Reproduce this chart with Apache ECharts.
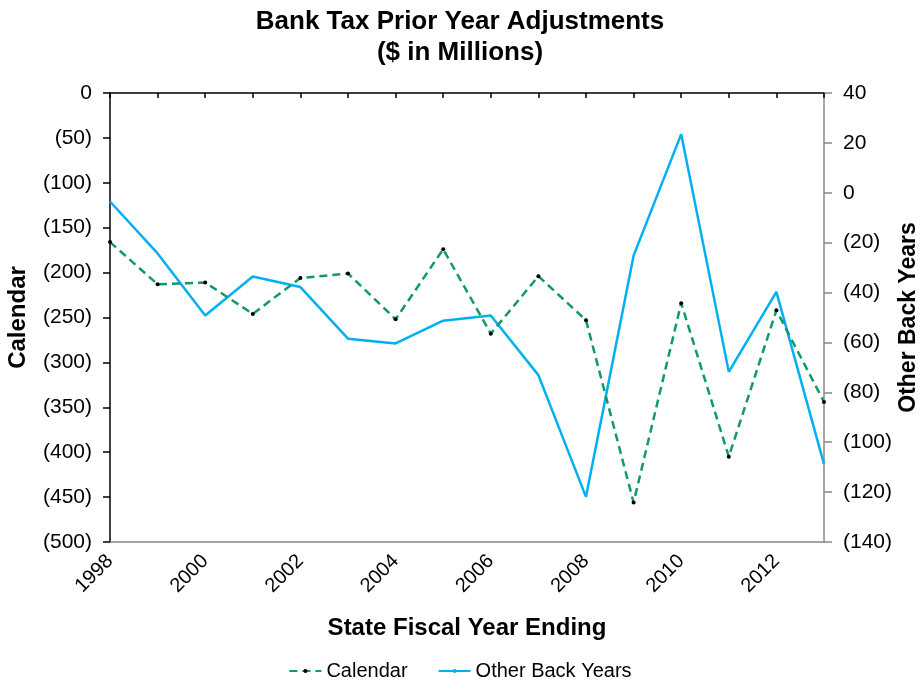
<!DOCTYPE html>
<html>
<head>
<meta charset="utf-8">
<script src="https://cdn.jsdelivr.net/npm/echarts@6/dist/echarts.min.js"></script>
<style>
  html, body { margin: 0; padding: 0; background: #fff; }
  #chart { width: 920px; height: 685px; }
</style>
</head>
<body>
<div id="chart"></div>
<script>
// fiscal years
const years = ['1998', '1999', '2000', '2001', '2002', '2003', '2004', '2005',
    '2006', '2007', '2008', '2009', '2010', '2011', '2012', '2013']
// left axis, $ millions
const calendar = [-166, -213, -211, -246, -206, -201, -252, -174,
    -268, -204, -253, -456, -234, -405, -242, -344]
// right axis, $ millions
const otherBackYears = [-3.5, -24.3, -49.2, -33.6, -37.8, -58.5, -60.4, -51.3,
    -49.2, -73.1, -121.9, -25.2, 23.5, -71.8, -39.7, -108.8]

const fontFam = '"Liberation Sans", Arial, sans-serif'

// negatives in brackets, like the accounting format
function paren (v) {
    return v < 0 ? '(' + (-v) + ')' : String(v)
}

const myChart = echarts.init(document.getElementById('chart'), null, { renderer: 'canvas' })

const option = {
    animation: false,
    backgroundColor: '#fff',
    textStyle: { fontFamily: fontFam },
    title: {
        text: 'Bank Tax Prior Year Adjustments\n($ in Millions)',
        left: 'center',
        top: 1,
        textStyle: {
            fontFamily: fontFam,
            fontSize: 26,
            fontWeight: 'bold',
            color: '#000',
            lineHeight: 31
        }
    },
    legend: {
        top: 656,
        left: 'center',
        itemWidth: 32,
        itemHeight: 5,
        itemGap: 30,
        textStyle: { fontFamily: fontFam, fontSize: 20, color: '#000' },
        data: ['Calendar', 'Other Back Years']
    },
    grid: {
        left: 110,
        right: 96,
        top: 93,
        bottom: 143,
        outerBoundsMode: 'none'
    },
    xAxis: [
        {
            // bottom axis: labels + name
            type: 'category',
            data: years,
            boundaryGap: false,
            position: 'bottom',
            axisLine: { onZero: false, lineStyle: { color: '#888', width: 1.5 } },
            axisTick: { show: false },
            axisLabel: {
                interval: 1,
                rotate: 45,
                margin: 16,
                fontSize: 20,
                color: '#000',
                fontFamily: fontFam
            },
            name: 'State Fiscal Year Ending',
            nameLocation: 'middle',
            nameGap: 74,
            nameMoveOverlap: false,
            nameTextStyle: { fontSize: 24, fontWeight: 'bold', color: '#000', fontFamily: fontFam },
            splitLine: { show: false }
        },
        {
            // top line at zero with small ticks
            type: 'category',
            data: years,
            boundaryGap: false,
            position: 'top',
            axisLine: { onZero: false, lineStyle: { color: '#000', width: 1.5 } },
            axisTick: { show: true, inside: true, length: 5, interval: 0, lineStyle: { color: '#000', width: 1.5 } },
            axisLabel: { show: false },
            splitLine: { show: false }
        }
    ],
    yAxis: [
        {
            type: 'value',
            min: -500,
            max: 0,
            interval: 50,
            position: 'left',
            axisLine: { show: true, lineStyle: { color: '#000', width: 1.5 } },
            axisTick: { show: true, length: 7, lineStyle: { color: '#000', width: 1.5 } },
            axisLabel: {
                formatter: paren,
                fontSize: 21,
                color: '#000',
                margin: 18,
                fontFamily: fontFam
            },
            splitLine: { show: false },
            name: 'Calendar',
            nameLocation: 'middle',
            nameGap: 80,
            nameMoveOverlap: false,
            nameRotate: 90,
            nameTextStyle: { fontSize: 24, fontWeight: 'bold', color: '#000', fontFamily: fontFam }
        },
        {
            type: 'value',
            min: -140,
            max: 40,
            interval: 20,
            position: 'right',
            axisLine: { show: true, lineStyle: { color: '#888', width: 1.5 } },
            axisTick: { show: true, length: 8, lineStyle: { color: '#888', width: 1.5 } },
            axisLabel: {
                formatter: paren,
                fontSize: 21,
                color: '#000',
                margin: 19,
                fontFamily: fontFam
            },
            splitLine: { show: false },
            name: 'Other Back Years',
            nameLocation: 'middle',
            nameGap: 73,
            nameMoveOverlap: false,
            nameRotate: 90,
            nameTextStyle: { fontSize: 23, fontWeight: 'bold', color: '#000', fontFamily: fontFam }
        }
    ],
    series: [
        {
            name: 'Calendar',
            type: 'line',
            xAxisIndex: 0,
            yAxisIndex: 0,
            data: calendar,
            symbol: 'circle',
            symbolSize: 4,
            itemStyle: { color: '#000' },
            lineStyle: { color: '#11996B', width: 2.5, type: [8, 5] },
            z: 3
        },
        {
            name: 'Other Back Years',
            type: 'line',
            xAxisIndex: 0,
            yAxisIndex: 1,
            data: otherBackYears,
            symbol: 'none',
            itemStyle: { color: '#00B0F0' },
            lineStyle: { color: '#00B0F0', width: 2.5 },
            z: 2
        }
    ]
}

option && myChart.setOption(option)
</script>
</body>
</html>
